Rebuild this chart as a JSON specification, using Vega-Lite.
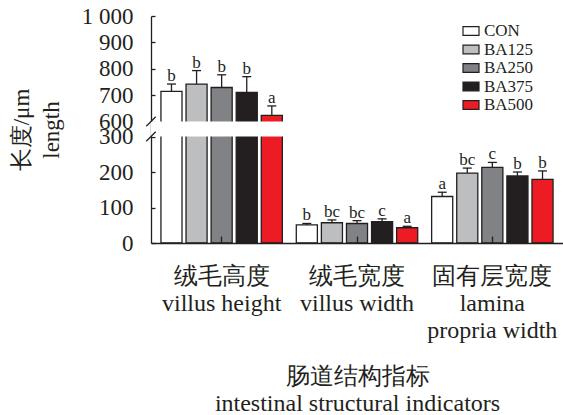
{
  "$schema": "https://vega.github.io/schema/vega-lite/v6.json",
  "width": 412,
  "height": 227,
  "autosize": "none",
  "padding": {"left": 151, "top": 16, "right": 0, "bottom": 172},
  "background": "white",
  "config": {
    "font": "Liberation Serif",
    "view": {"stroke": null},
    "axis": {
      "domainColor": "#231f20",
      "domainWidth": 1.3,
      "tickColor": "#231f20",
      "tickWidth": 1.3,
      "labelColor": "#231f20",
      "titleColor": "#231f20",
      "titleFontWeight": "normal",
      "grid": false
    },
    "axisY": {
      "tickSize": -4,
      "labelPadding": 22,
      "labelOverlap": false,
      "labelFontSize": 23,
      "titleFontSize": 23,
      "titleLineHeight": 30,
      "titlePadding": 18
    },
    "text": {"font": "Liberation Serif"}
  },
  "datasets": {
    "bars": [
      {"group": "绒毛高度\nvillus height", "treatment": "CON", "mean": 714, "err": 742, "letter": "b"},
      {"group": "绒毛高度\nvillus height", "treatment": "BA125", "mean": 742, "err": 793, "letter": "b"},
      {"group": "绒毛高度\nvillus height", "treatment": "BA250", "mean": 729, "err": 777, "letter": "b"},
      {"group": "绒毛高度\nvillus height", "treatment": "BA375", "mean": 710, "err": 770, "letter": "b"},
      {"group": "绒毛高度\nvillus height", "treatment": "BA500", "mean": 623, "err": 659, "letter": "a"},
      {"group": "绒毛宽度\nvillus width", "treatment": "CON", "mean": 51, "err": 55, "letter": "b"},
      {"group": "绒毛宽度\nvillus width", "treatment": "BA125", "mean": 57, "err": 65, "letter": "bc"},
      {"group": "绒毛宽度\nvillus width", "treatment": "BA250", "mean": 55, "err": 63, "letter": "bc"},
      {"group": "绒毛宽度\nvillus width", "treatment": "BA375", "mean": 60, "err": 68, "letter": "c"},
      {"group": "绒毛宽度\nvillus width", "treatment": "BA500", "mean": 43, "err": 47, "letter": "a"},
      {"group": "固有层宽度\nlamina\npropria width", "treatment": "CON", "mean": 131, "err": 143, "letter": "a"},
      {"group": "固有层宽度\nlamina\npropria width", "treatment": "BA125", "mean": 197, "err": 211, "letter": "bc"},
      {"group": "固有层宽度\nlamina\npropria width", "treatment": "BA250", "mean": 213, "err": 227, "letter": "c"},
      {"group": "固有层宽度\nlamina\npropria width", "treatment": "BA375", "mean": 189, "err": 200, "letter": "b"},
      {"group": "固有层宽度\nlamina\npropria width", "treatment": "BA500", "mean": 179, "err": 203, "letter": "b"}
    ],
    "breaks": [
      {"group": "绒毛高度\nvillus height", "brk": 600},
      {"group": "绒毛高度\nvillus height", "brk": 300}
    ],
    "gap": [{"lo": 300, "hi": 600}]
  },
  "layer": [
    {
      "data": {"name": "bars"},
      "mark": {"type": "bar", "stroke": "#231f20", "strokeWidth": 1.3},
      "encoding": {
        "x": {
          "field": "group", "type": "nominal", "sort": null,
          "scale": {"paddingInner": 0.103, "paddingOuter": 0.0735},
          "axis": {
            "title": ["肠道结构指标", "intestinal structural indicators"],
            "labelExpr": "split(datum.label, '\\n')",
            "labelAngle": 0,
            "tickSize": -7,
            "labelPadding": 28,
            "labelFontSize": 24,
            "labelLineHeight": 27,
            "labelLimit": 0,
            "titleFontSize": 24,
            "titleLineHeight": 27,
            "titlePadding": 22,
            "zindex": 1
          }
        },
        "xOffset": {"field": "treatment", "type": "nominal", "sort": null, "scale": {"paddingInner": 0.16, "paddingOuter": 0}},
        "y": {
          "field": "mean", "type": "quantitative",
          "scale": {"domain": [0, 300, 600, 1000], "range": [227, 120.5, 105.5, 0], "nice": false, "zero": false},
          "axis": {"title": ["长度/μm", "length"], "values": [0, 100, 200, 300, 600, 700, 800, 900, 1000], "labelExpr": "datum.value == 1000 ? '1 000' : datum.label", "labelOverlap": false, "labelFontSize": 23, "titleFontSize": 23, "titleLineHeight": 30, "titlePadding": 18, "tickSize": -4, "labelPadding": 22}
        },
        "fill": {
          "field": "treatment", "type": "nominal",
          "scale": {"domain": ["CON", "BA125", "BA250", "BA375", "BA500"], "range": ["#ffffff", "#bcbec0", "#808285", "#231f20", "#ed1c24"]},
          "legend": {
            "orient": "none", "legendX": 311, "legendY": 6, "title": null, "padding": 0,
            "symbolType": "M-1,-0.55H1V0.55H-1Z", "symbolSize": 256,
            "symbolStrokeColor": "#231f20", "symbolStrokeWidth": 1.2, "symbolOpacity": 1,
            "labelFontSize": 17, "labelColor": "#231f20", "labelOffset": 4, "rowPadding": 1.5
          }
        }
      }
    },
    {
      "data": {"name": "gap"},
      "mark": {"type": "rect", "fill": "white", "stroke": null},
      "encoding": {
        "y": {"field": "lo", "type": "quantitative",
          "axis": {"title": ["长度/μm", "length"], "values": [0, 100, 200, 300, 600, 700, 800, 900, 1000], "labelExpr": "datum.value == 1000 ? '1 000' : datum.label", "labelOverlap": false, "labelFontSize": 23, "titleFontSize": 23, "titleLineHeight": 30, "titlePadding": 18, "tickSize": -4, "labelPadding": 22}},
        "y2": {"field": "hi"}
      }
    },
    {
      "data": {"name": "bars"},
      "mark": {"type": "rule", "stroke": "#231f20", "strokeWidth": 1.3},
      "encoding": {
        "x": {"field": "group", "type": "nominal", "sort": null},
        "xOffset": {"field": "treatment", "type": "nominal", "sort": null},
        "y": {"field": "mean", "type": "quantitative",
          "axis": {"title": ["长度/μm", "length"], "values": [0, 100, 200, 300, 600, 700, 800, 900, 1000], "labelExpr": "datum.value == 1000 ? '1 000' : datum.label", "labelOverlap": false, "labelFontSize": 23, "titleFontSize": 23, "titleLineHeight": 30, "titlePadding": 18, "tickSize": -4, "labelPadding": 22}},
        "y2": {"field": "err"}
      }
    },
    {
      "data": {"name": "bars"},
      "mark": {"type": "tick", "orient": "horizontal", "size": 9, "thickness": 1.3, "color": "#231f20", "opacity": 1},
      "encoding": {
        "x": {"field": "group", "type": "nominal", "sort": null},
        "xOffset": {"field": "treatment", "type": "nominal", "sort": null},
        "y": {"field": "err", "type": "quantitative",
          "axis": {"title": ["长度/μm", "length"], "values": [0, 100, 200, 300, 600, 700, 800, 900, 1000], "labelExpr": "datum.value == 1000 ? '1 000' : datum.label", "labelOverlap": false, "labelFontSize": 23, "titleFontSize": 23, "titleLineHeight": 30, "titlePadding": 18, "tickSize": -4, "labelPadding": 22}}
      }
    },
    {
      "data": {"name": "bars"},
      "mark": {"type": "text", "baseline": "alphabetic", "dy": -3, "fontSize": 17, "color": "#231f20", "font": "Liberation Serif"},
      "encoding": {
        "x": {"field": "group", "type": "nominal", "sort": null},
        "xOffset": {"field": "treatment", "type": "nominal", "sort": null},
        "y": {"field": "err", "type": "quantitative",
          "axis": {"title": ["长度/μm", "length"], "values": [0, 100, 200, 300, 600, 700, 800, 900, 1000], "labelExpr": "datum.value == 1000 ? '1 000' : datum.label", "labelOverlap": false, "labelFontSize": 23, "titleFontSize": 23, "titleLineHeight": 30, "titlePadding": 18, "tickSize": -4, "labelPadding": 22}},
        "text": {"field": "letter"}
      }
    },
    {
      "data": {"name": "breaks"},
      "mark": {"type": "point", "shape": "M-1,1L1,-1", "filled": false, "stroke": "#231f20", "strokeWidth": 1.3, "size": 90, "opacity": 1},
      "encoding": {
        "x": {"field": "group", "type": "nominal", "sort": null, "bandPosition": -0.082},
        "y": {"field": "brk", "type": "quantitative",
          "axis": {"title": ["长度/μm", "length"], "values": [0, 100, 200, 300, 600, 700, 800, 900, 1000], "labelExpr": "datum.value == 1000 ? '1 000' : datum.label", "labelOverlap": false, "labelFontSize": 23, "titleFontSize": 23, "titleLineHeight": 30, "titlePadding": 18, "tickSize": -4, "labelPadding": 22}}
      }
    }
  ]
}
